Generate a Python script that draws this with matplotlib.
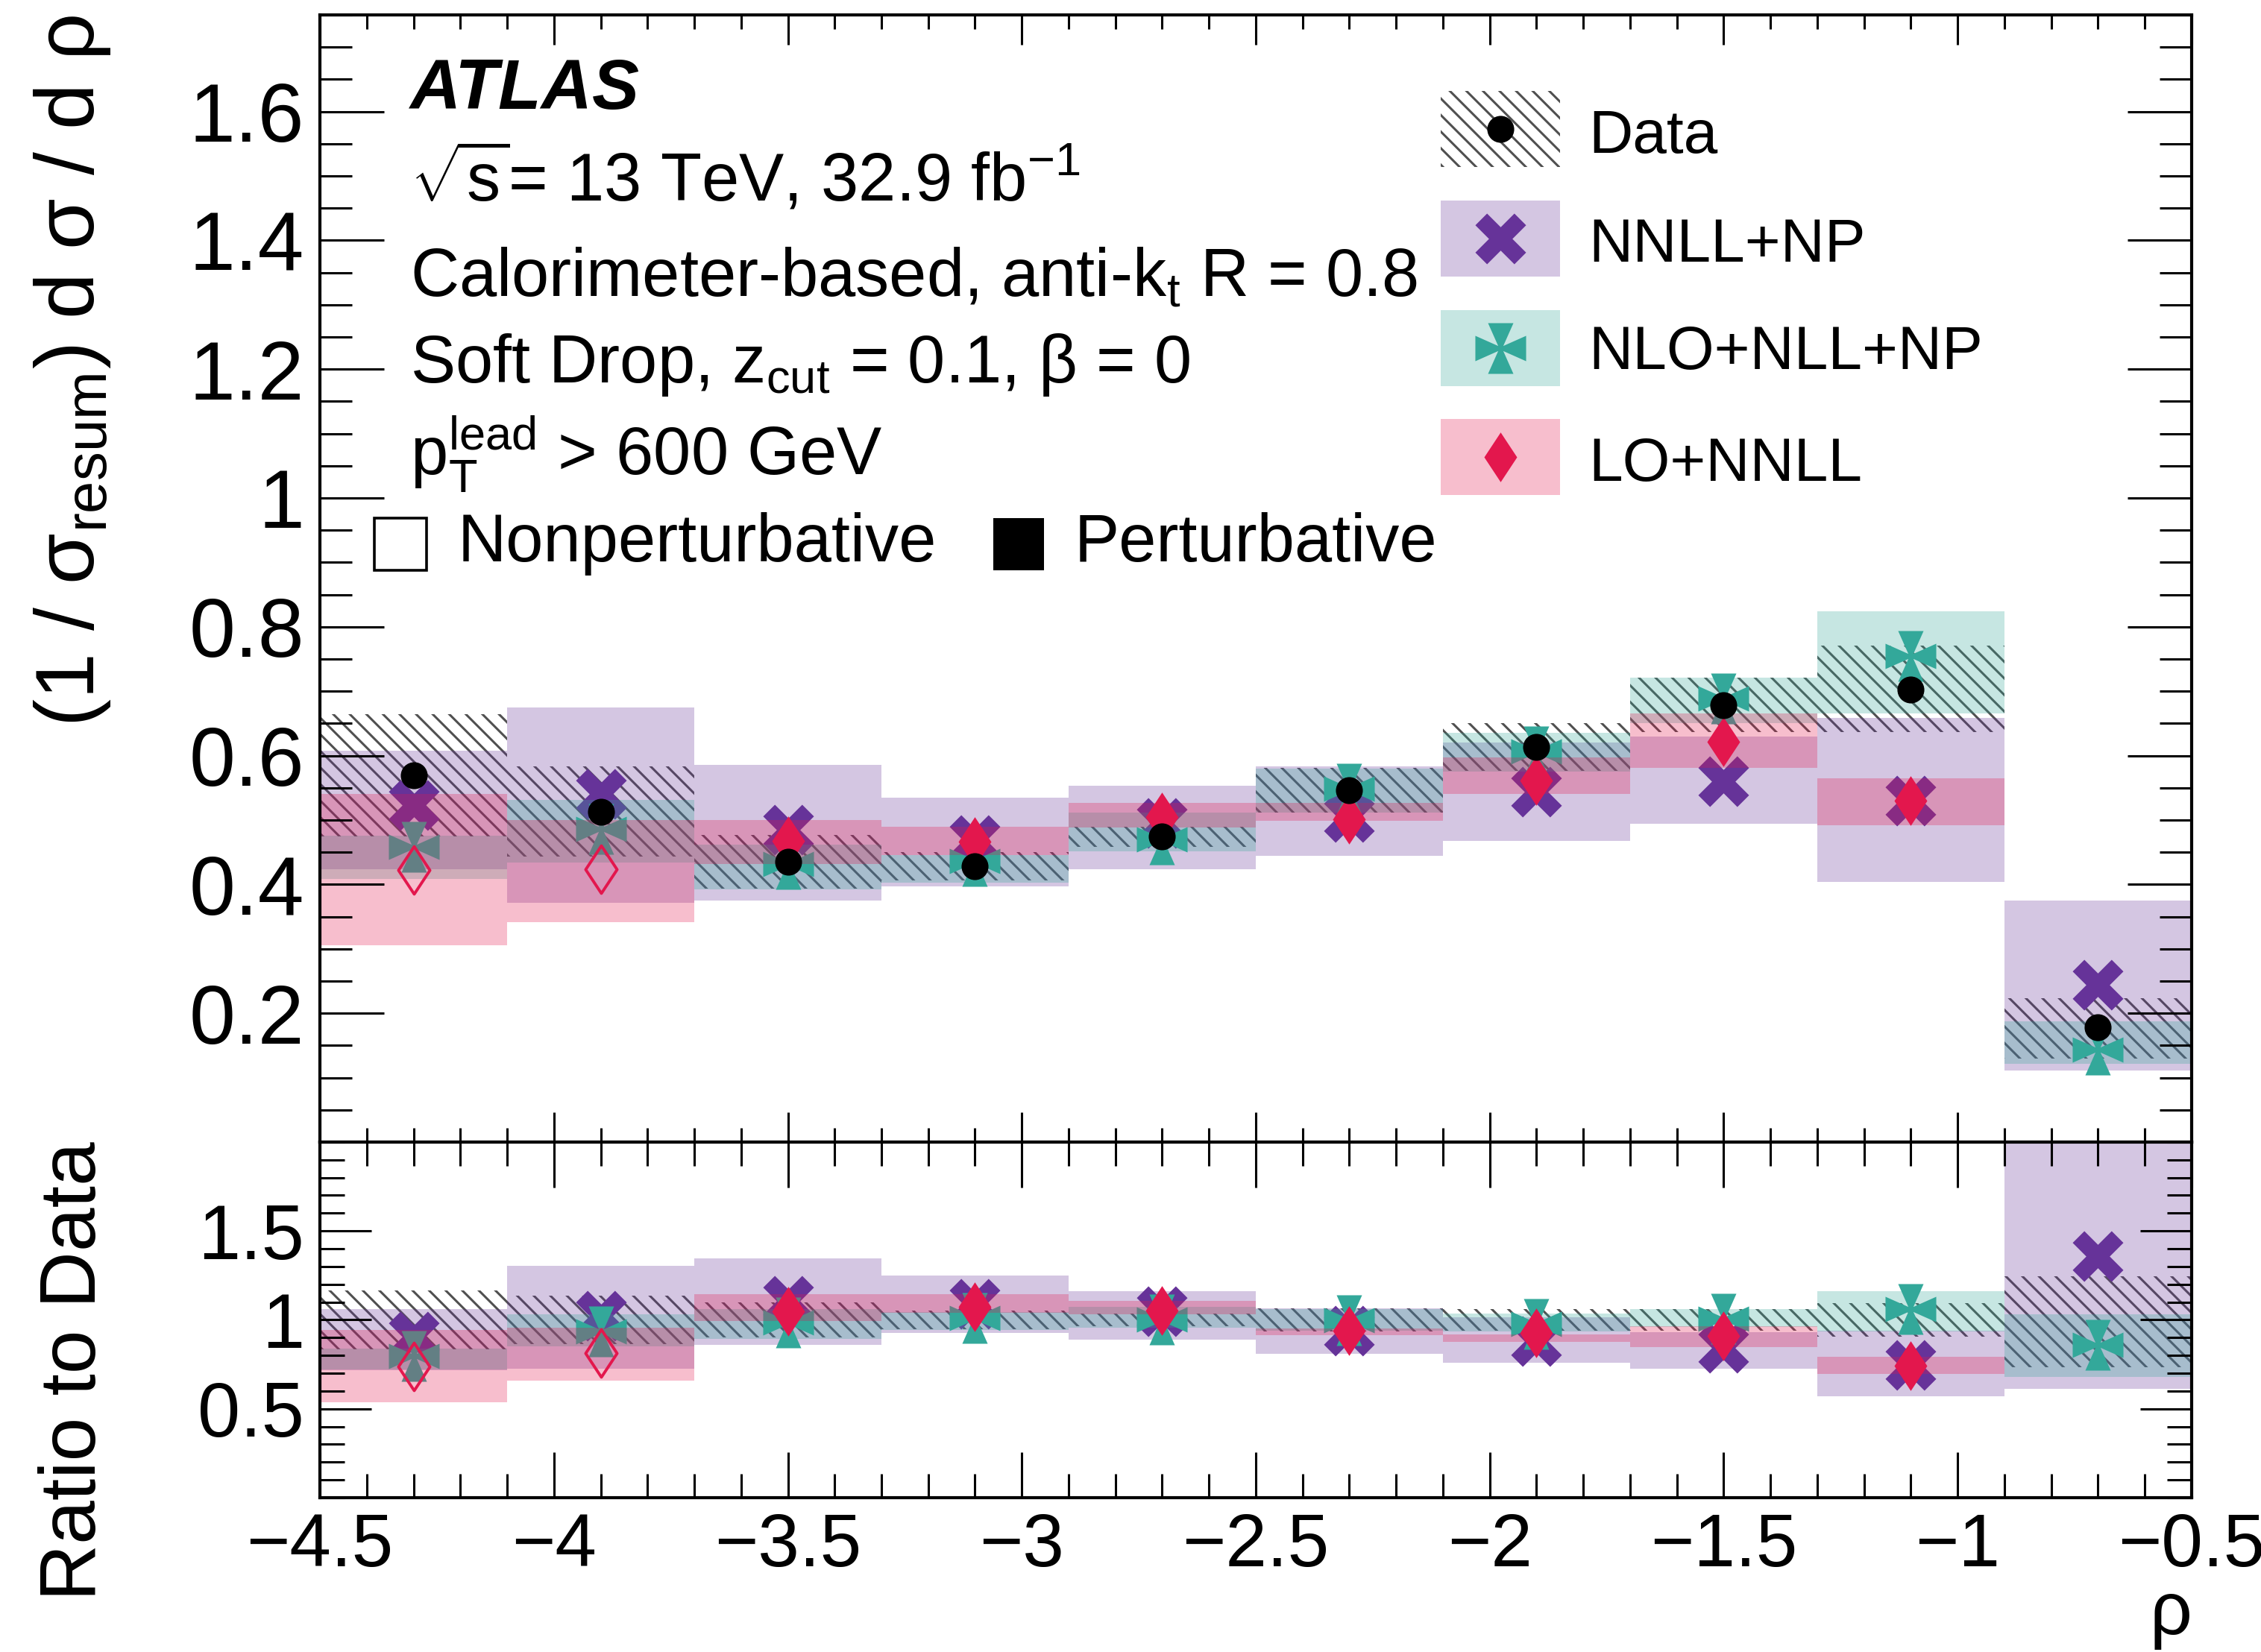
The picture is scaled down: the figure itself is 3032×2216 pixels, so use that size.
import numpy as np
import matplotlib
matplotlib.use('Agg')
import matplotlib.pyplot as plt
from matplotlib.path import Path
from matplotlib.patches import Rectangle
from matplotlib.ticker import MultipleLocator, FixedLocator, FuncFormatter

plt.rcParams['font.family'] = ['Liberation Sans', 'DejaVu Sans']
plt.rcParams['mathtext.fontset'] = 'custom'
plt.rcParams['mathtext.rm'] = 'Liberation Sans'
plt.rcParams['mathtext.it'] = 'Liberation Sans:italic'
plt.rcParams['mathtext.bf'] = 'Liberation Sans:bold'
plt.rcParams['hatch.linewidth'] = 1.1

nan = np.nan

# rho bins
edges = [-4.5, -4.1, -3.7, -3.3, -2.9, -2.5, -2.1, -1.7, -1.3, -0.9, -0.5]
nonpert = [True, True, False, False, False, False, False, False, False, False]

# top panel: (1/sigma) dsigma/drho
data = [0.569, 0.513, 0.435, 0.428, 0.474, 0.546, 0.613, 0.678, 0.703, 0.178]
data_lo = [0.474, 0.443, 0.393, 0.406, 0.458, 0.511, 0.576, 0.637, 0.637, 0.130]
data_hi = [0.664, 0.583, 0.477, 0.450, 0.490, 0.581, 0.650, 0.721, 0.771, 0.223]

nnll = [0.523, 0.540, 0.485, 0.469, 0.495, 0.505, 0.544, 0.560, 0.530, 0.244]
nnll_lo = [0.424, 0.372, 0.375, 0.397, 0.423, 0.444, 0.467, 0.494, 0.404, 0.111]
nnll_hi = [0.607, 0.675, 0.585, 0.535, 0.553, 0.583, 0.620, 0.630, 0.659, 0.375]

nlo = [0.458, 0.486, 0.432, 0.436, 0.470, 0.548, 0.606, 0.689, 0.754, 0.143]
nlo_lo = [0.409, 0.434, 0.392, 0.403, 0.451, 0.512, 0.575, 0.650, 0.665, 0.122]
nlo_hi = [0.476, 0.531, 0.462, 0.446, 0.511, 0.580, 0.635, 0.721, 0.824, 0.187]

lo = [0.422, 0.423, 0.467, 0.466, 0.505, 0.501, 0.561, 0.621, 0.530, nan]
lo_lo = [0.305, 0.341, 0.432, 0.445, 0.488, 0.499, 0.540, 0.581, 0.492, nan]
lo_hi = [0.540, 0.500, 0.500, 0.490, 0.526, 0.526, 0.597, 0.665, 0.565, nan]

# bottom panel: ratio to data
r_data_lo = [0.835, 0.863, 0.903, 0.948, 0.966, 0.936, 0.940, 0.940, 0.906, 0.735]
r_data_hi = [1.165, 1.137, 1.097, 1.052, 1.034, 1.064, 1.060, 1.060, 1.094, 1.245]

r_nnll = [0.905, 1.025, 1.105, 1.090, 1.050, 0.940, 0.880, 0.843, 0.748, 1.357]
r_nnll_lo = [0.718, 0.726, 0.860, 0.927, 0.890, 0.808, 0.758, 0.726, 0.569, 0.614]
r_nnll_hi = [1.061, 1.305, 1.344, 1.248, 1.161, 1.066, 1.015, 0.930, 0.938, 2.100]

r_nlo = [0.795, 0.934, 0.985, 1.010, 1.000, 0.996, 0.976, 1.008, 1.060, 0.860]
r_nlo_lo = [0.720, 0.850, 0.895, 0.942, 0.955, 0.938, 0.935, 0.962, 0.934, 0.681]
r_nlo_hi = [0.840, 1.031, 1.062, 1.042, 1.075, 1.062, 1.035, 1.062, 1.161, 1.031]

r_lo = [0.737, 0.815, 1.050, 1.073, 1.054, 0.939, 0.927, 0.909, 0.741, nan]
r_lo_lo = [0.535, 0.658, 0.992, 1.040, 1.030, 0.912, 0.875, 0.845, 0.696, nan]
r_lo_hi = [0.942, 0.955, 1.143, 1.143, 1.106, 0.950, 0.919, 0.964, 0.793, nan]

c_purple = '#663399'
c_teal = '#33a89a'
c_red = '#e3174d'
c_hatch = '#505050'
band_alpha = 0.28


def cross_x(w=0.3):
    pts = [(1, w), (w, w), (w, 1), (-w, 1), (-w, w), (-1, w),
           (-1, -w), (-w, -w), (-w, -1), (w, -1), (w, -w), (1, -w)]
    c = np.cos(np.pi / 4)
    rot = [(x * c - y * c, x * c + y * c) for x, y in pts]
    return Path(rot + [rot[0]], closed=True)


def four_triangles(a=0.5, n=0.1):
    pts = [(-a, 1), (a, 1), (n, n), (1, a), (1, -a), (n, -n),
           (a, -1), (-a, -1), (-n, -n), (-1, -a), (-1, a), (-n, n)]
    return Path(pts + [pts[0]], closed=True)


def diamond(w=0.66):
    pts = [(0, 1), (w, 0), (0, -1), (-w, 0)]
    return Path(pts + [pts[0]], closed=True)


m_x = cross_x()
m_tri = four_triangles()
m_dia = diamond()

edges = np.array(edges)
centers = 0.5 * (edges[:-1] + edges[1:])
widths = np.diff(edges)
nonpert = np.array(nonpert)


def band(ax, lo_, hi_, **kw):
    lo_ = np.array(lo_, dtype=float)
    hi_ = np.array(hi_, dtype=float)
    ok = np.isfinite(lo_) & np.isfinite(hi_)
    ax.bar(centers[ok], (hi_ - lo_)[ok], width=widths[ok], bottom=lo_[ok],
           linewidth=0, **kw)


def draw(ax, d, dlo, dhi, a, alo, ahi, b, blo, bhi, c, clo, chi):
    band(ax, dlo, dhi, facecolor='none', edgecolor=c_hatch, hatch='\\\\\\', zorder=1.0)
    band(ax, alo, ahi, color=c_purple, alpha=band_alpha, zorder=1.1)
    ax.plot(centers, a, ls='none', marker=m_x, ms=24.5, color=c_purple, mew=0, zorder=1.2)
    band(ax, blo, bhi, color=c_teal, alpha=band_alpha, zorder=1.3)
    ax.plot(centers, b, ls='none', marker=m_tri, ms=24.5, color=c_teal, mew=0, zorder=1.4)
    band(ax, clo, chi, color=c_red, alpha=band_alpha, zorder=1.5)
    c = np.array(c, dtype=float)
    pert = ~nonpert & np.isfinite(c)
    ax.plot(centers[pert], c[pert], ls='none', marker=m_dia, ms=24, color=c_red, mew=0, zorder=1.6)
    ax.plot(centers[nonpert], c[nonpert], ls='none', marker=m_dia, ms=23, mfc='none',
            mec=c_red, mew=1.4, zorder=1.6)
    if d is not None:
        ax.plot(centers, d, ls='none', marker='o', ms=13, color='black', mew=0, zorder=1.7)


fig = plt.figure(figsize=(15.16, 11.08), dpi=200)
ax1 = fig.add_axes([0.1415, 0.3087, 0.8278, 0.6823])
ax2 = fig.add_axes([0.1415, 0.0934, 0.8278, 0.2153])

draw(ax1, data, data_lo, data_hi, nnll, nnll_lo, nnll_hi,
     nlo, nlo_lo, nlo_hi, lo, lo_lo, lo_hi)
draw(ax2, None, r_data_lo, r_data_hi, r_nnll, r_nnll_lo, r_nnll_hi,
     r_nlo, r_nlo_lo, r_nlo_hi, r_lo, r_lo_lo, r_lo_hi)

fmt = FuncFormatter(lambda v, p: f'{v:g}'.replace('-', '\u2212'))

for ax in (ax1, ax2):
    ax.set_xlim(-4.5, -0.5)
    ax.xaxis.set_major_locator(MultipleLocator(0.5))
    ax.xaxis.set_minor_locator(MultipleLocator(0.1))
    ax.xaxis.set_major_formatter(fmt)
    ax.yaxis.set_major_formatter(fmt)
    ax.tick_params(which='both', direction='in', top=True, right=True, width=1.1)
    for s in ax.spines.values():
        s.set_linewidth(1.5)

ax1.set_ylim(0, 1.75)
ax1.yaxis.set_major_locator(FixedLocator([0.2, 0.4, 0.6, 0.8, 1.0, 1.2, 1.4, 1.6]))
ax1.yaxis.set_minor_locator(MultipleLocator(0.05))
ax1.tick_params(axis='x', which='major', length=14.4, labelbottom=False)
ax1.tick_params(axis='x', which='minor', length=6.8)
ax1.tick_params(axis='y', which='major', length=31, labelsize=40, pad=7.5)
ax1.tick_params(axis='y', which='minor', length=15.5)

ax2.set_ylim(0, 2)
ax2.yaxis.set_major_locator(FixedLocator([0.5, 1.0, 1.5]))
ax2.yaxis.set_minor_locator(MultipleLocator(0.1))
ax2.tick_params(axis='x', which='major', length=22, labelsize=36, pad=7)
ax2.tick_params(axis='x', which='minor', length=11.5)
ax2.tick_params(axis='y', which='major', length=25, labelsize=37, pad=7.5)
ax2.tick_params(axis='y', which='minor', length=12)

# axis titles
fig.text(0.032, 0.991, r'(1 / σ$_{\mathrm{resum}}$) d σ / d ρ', rotation=90,
         ha='center', va='top', fontsize=40)
fig.text(0.033, 0.309, 'Ratio to Data', rotation=90, ha='center', va='top', fontsize=38)
fig.text(0.9693, 0.011, 'ρ', ha='right', va='baseline', fontsize=36)

# labels in the top panel
tr = ax1.transAxes
ax1.text(0.048, 0.9167, 'ATLAS', transform=tr, fontsize=34, fontweight='bold',
         fontstyle='italic', va='baseline')
lines = [r'$\sqrt{\mathrm{s}}$= 13 TeV, 32.9 fb$^{\mathrm{-1}}$',
         r'Calorimeter-based, anti-k$_{\mathrm{t}}$ R = 0.8',
         r'Soft Drop, z$_{\mathrm{cut}}$ = 0.1, β = 0',
         r'p$_{\mathrm{T}}^{\mathrm{lead}}$ > 600 GeV']
for txt, yy in zip(lines, [0.8347, 0.7507, 0.6739, 0.5919]):
    ax1.text(0.048, yy, txt, transform=tr, fontsize=32.5, va='baseline')

ax1.add_patch(Rectangle((0.0291, 0.5073), 0.0279, 0.0463, transform=tr, fill=False,
                        lw=1.3, edgecolor='black', clip_on=False, zorder=5))
ax1.text(0.0737, 0.5152, 'Nonperturbative', transform=tr, fontsize=32.5, va='baseline')
ax1.add_patch(Rectangle((0.3598, 0.5073), 0.0271, 0.0463, transform=tr,
                        facecolor='black', lw=0, clip_on=False, zorder=5))
ax1.text(0.4032, 0.5152, 'Perturbative', transform=tr, fontsize=32.5, va='baseline')

# legend
leg_names = ['Data', 'NNLL+NP', 'NLO+NLL+NP', 'LO+NNLL']
leg_box_y = [0.8651, 0.7679, 0.6706, 0.5741]
leg_text_y = [0.8777, 0.7811, 0.6858, 0.5866]
bx, bw, bh = 0.599, 0.0637, 0.0675
mx = bx + bw / 2
for i, name in enumerate(leg_names):
    y0 = leg_box_y[i]
    if i == 0:
        ax1.add_patch(Rectangle((bx, y0), bw, bh, transform=tr, facecolor='none',
                                edgecolor=c_hatch, hatch='\\\\\\', lw=0, zorder=5))
        ax1.plot([mx], [y0 + bh / 2], transform=tr, ls='none', marker='o', ms=13,
                 color='black', mew=0, zorder=6)
    else:
        col = [c_purple, c_teal, c_red][i - 1]
        mk = [m_x, m_tri, m_dia][i - 1]
        ax1.add_patch(Rectangle((bx, y0), bw, bh, transform=tr, facecolor=col,
                                alpha=band_alpha, lw=0, zorder=5))
        ax1.plot([mx], [y0 + bh / 2], transform=tr, ls='none', marker=mk,
                 ms=24.5 if i < 3 else 24, color=col, mew=0, zorder=6)
    ax1.text(0.6777, leg_text_y[i], name, transform=tr, fontsize=29.5, va='baseline')

fig.savefig('out.png', dpi=200)
